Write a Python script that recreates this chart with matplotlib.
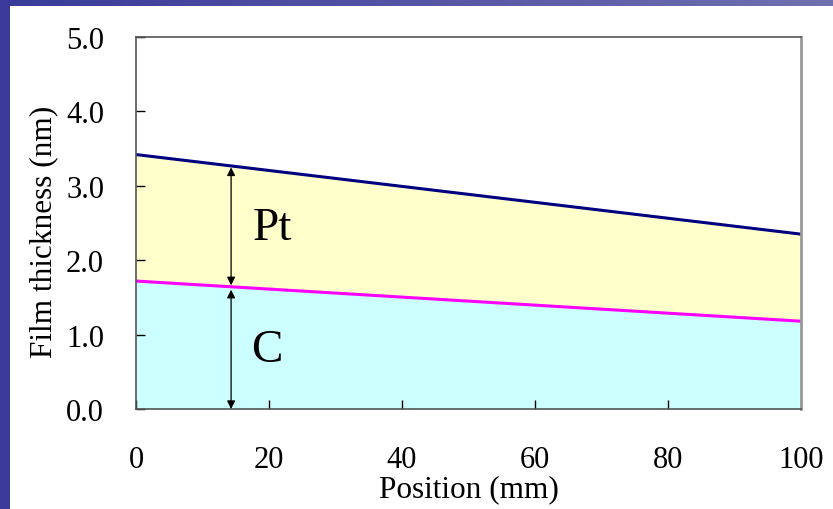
import numpy as np
import matplotlib
matplotlib.use("Agg")
import matplotlib.pyplot as plt
from matplotlib.colors import LinearSegmentedColormap

positions = [0, 100]
pt_top = [3.42, 2.35]
c_top = [1.72, 1.18]
xticks = [0, 20, 40, 60, 80, 100]
yticks = [0.0, 1.0, 2.0, 3.0, 4.0, 5.0]
arrow_x = 14.3

plt.rcParams['font.family'] = ['Liberation Serif', 'DejaVu Serif']

fig = plt.figure(figsize=(8.33, 5.10), dpi=100)
fig.patch.set_facecolor('white')

# decorative border
top = fig.add_axes([0, 1 - 7/510, 1, 7/510])
grad = np.linspace(0, 1, 256).reshape(1, -1)
cmap = LinearSegmentedColormap.from_list('b', ['#3a3a9a', '#7070b0'])
top.imshow(grad, aspect='auto', cmap=cmap)
top.axis('off')
left = fig.add_axes([0, 0, 10/833, 1 - 7/510])
left.set_facecolor('#3a3a9a')
left.set_xticks([]); left.set_yticks([])
for s in left.spines.values():
    s.set_visible(False)

ax = fig.add_axes([136/833, 100/510, 665/833, 372/510])
x = np.array(positions, dtype=float)
ax.fill_between(x, 0, c_top, color='#ccffff', linewidth=0)
ax.fill_between(x, c_top, pt_top, color='#ffffcc', linewidth=0)
ax.plot(x, pt_top, color='#000080', lw=2.2, solid_capstyle='butt')
ax.plot(x, c_top, color='#ff00ff', lw=2.2, solid_capstyle='butt')

ax.set_xlim(0, 100)
ax.set_ylim(0, 5)
ax.set_xticks(xticks)
ax.set_xticklabels([str(v) for v in xticks])
ax.set_yticks(yticks)
ax.set_yticklabels([f"{v:.1f}" for v in yticks])
ax.tick_params(direction='in', length=6.5, width=1, labelsize=22, colors='black',
               top=False, right=False)
ax.tick_params(axis='x', pad=26)
ax.tick_params(axis='y', pad=23)
for s in ['left', 'bottom', 'top']:
    ax.spines[s].set_color('#555555')
    ax.spines[s].set_linewidth(1.2)
ax.spines['right'].set_color('#999999')
ax.spines['right'].set_linewidth(2)

c_at = np.interp(arrow_x, x, c_top)
pt_at = np.interp(arrow_x, x, pt_top)
ax.annotate('', xy=(arrow_x, 0.0), xytext=(arrow_x, c_at - 0.04),
            arrowprops=dict(arrowstyle='<|-|>', color='black', lw=0.9,
                            mutation_scale=12, shrinkA=0, shrinkB=0))
ax.annotate('', xy=(arrow_x, c_at + 0.02), xytext=(arrow_x, pt_at - 0.02),
            arrowprops=dict(arrowstyle='<|-|>', color='black', lw=0.9,
                            mutation_scale=12, shrinkA=0, shrinkB=0))
ax.text(17.6, 2.285, 'Pt', fontsize=34, va='baseline', ha='left')
ax.text(17.3, 0.645, 'C', fontsize=34, va='baseline', ha='left')

ax.set_xlabel('Position (mm)', fontsize=22.5, labelpad=0)
ax.set_ylabel('Film thickness (nm)', fontsize=22.5, labelpad=6)
ax.yaxis.label.set_y((410 - 232) / 372)

fig.savefig('out.png', dpi=100)
